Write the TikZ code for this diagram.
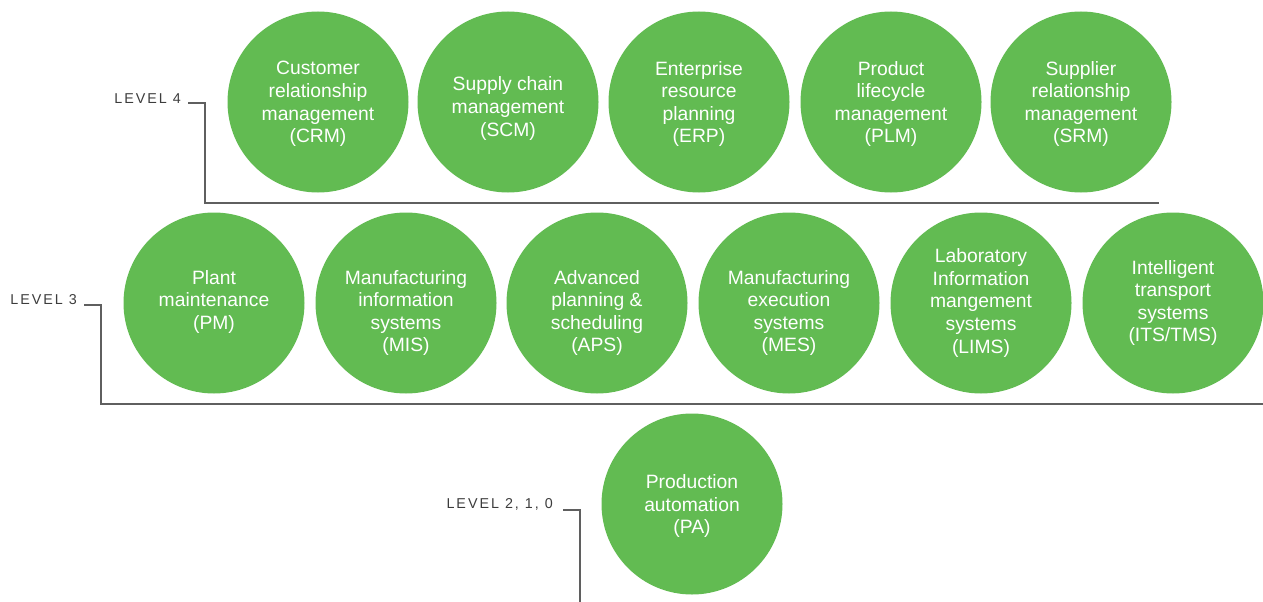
\documentclass[tikz,border=0pt]{standalone}
\usepackage{fontspec}
\setmainfont{Liberation Sans}
\newfontfamily\lvlfont[LetterSpace=14]{Liberation Sans}
\definecolor{sysgreen}{RGB}{98,187,82}
\definecolor{lvlgray}{RGB}{60,60,60}
\definecolor{linegray}{RGB}{95,95,95}
\tikzset{
  sys/.style={circle, fill=sysgreen, minimum size=181pt, inner sep=0pt},
  systxt/.style={text=white, align=center, inner sep=0pt, yshift=-2pt,
    font=\fontsize{19.3}{22.6}\selectfont},
  lvl/.style={anchor=base east, text=lvlgray, inner sep=0pt, font=\lvlfont\fontsize{14.3}{16}\selectfont},
  lvlline/.style={draw=linegray, line width=1.2pt}
}

\begin{document}
\begin{tikzpicture}[x=1pt,y=-1pt]
  \useasboundingbox (0,0) rectangle (1263,602);
  % level 4
  \node[sys, label={[systxt]center:Customer\\relationship\\management\\(CRM)}] (crm) at (318,102) {};
  \node[sys, label={[systxt,yshift=-4.5pt]center:Supply chain\\management\\(SCM)}] (scm) at (508,102) {};
  \node[sys, label={[systxt]center:Enterprise\\resource\\planning\\(ERP)}] (erp) at (699,102) {};
  \node[sys, label={[systxt]center:Product\\lifecycle\\management\\(PLM)}] (plm) at (891,102) {};
  \node[sys, label={[systxt]center:Supplier\\relationship\\management\\(SRM)}] (srm) at (1081,102) {};
  % level 3
  \node[sys, label={[systxt,yshift=3pt]center:Plant\\maintenance\\(PM)}] (pm) at (214,303) {};
  \node[sys, label={[systxt,yshift=-8pt]center:Manufacturing\\information\\systems\\(MIS)}] (mis) at (406,303) {};
  \node[sys, label={[systxt,yshift=-8pt]center:Advanced\\planning \&\\scheduling\\(APS)}] (aps) at (597,303) {};
  \node[sys, label={[systxt,yshift=-8pt]center:Manufacturing\\execution\\systems\\(MES)}] (mes) at (789,303) {};
  \node[sys, label={[systxt,yshift=2pt]center:Laboratory\\Information\\mangement\\systems\\(LIMS)}] (lims) at (981,303) {};
  \node[sys, label={[systxt,yshift=2pt]center:Intelligent\\transport\\systems\\(ITS/TMS)}] (its) at (1173,303) {};
  % level 2, 1, 0
  \node[sys, label={[systxt]center:Production\\automation\\(PA)}] (pa) at (692,504) {};

  \node[lvl] (l4) at (181,103.5) {LEVEL 4};
  \node[lvl] (l3) at (77,304.5) {LEVEL 3};
  \node[lvl] (l2) at (553,508.5) {LEVEL 2, 1, 0};

  \coordinate (l4s) at (188,103); \coordinate (l4c) at (205,203); \coordinate (l4e) at (1159,203);
  \coordinate (l3s) at (84,305);  \coordinate (l3c) at (101,404); \coordinate (l3e) at (1263,404);
  \coordinate (l2s) at (563,510); \coordinate (l2e) at (580,602);
  \draw[lvlline] (l4s) -| (l4c) -- (l4e);
  \draw[lvlline] (l3s) -| (l3c) -- (l3e);
  \draw[lvlline] (l2s) -| (l2e);
\end{tikzpicture}
\end{document}
